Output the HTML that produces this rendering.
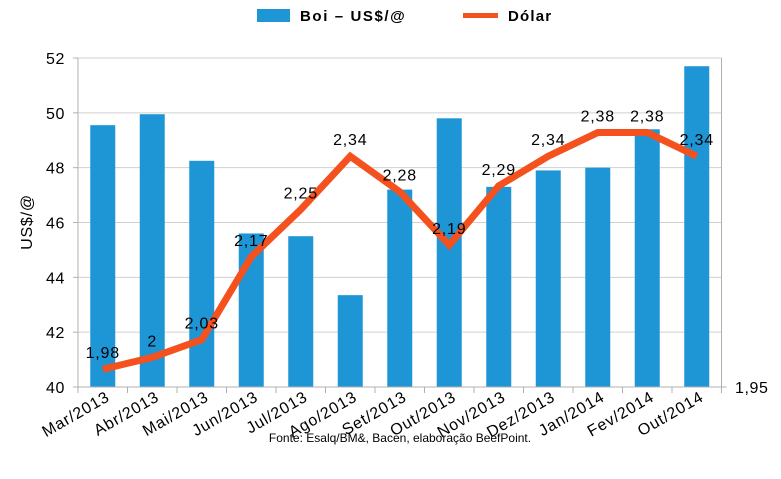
<!DOCTYPE html>
<html><head><meta charset="utf-8"><style>
body{margin:0;background:#fff;}
svg{display:block;font-family:"Liberation Sans",sans-serif;}
</style></head><body>
<svg id="chart" width="781" height="479">
<g id="grid"></g><g id="bars"></g><g id="axes"></g><g id="line"></g><g id="labels"></g>
<g>
<rect x="257" y="9" width="33" height="13" fill="#1e96d6"/>
<text x="300" y="21" font-size="15" font-weight="bold" letter-spacing="1.6">Boi – US$/@</text>
<line x1="463" y1="15.5" x2="498" y2="15.5" stroke="#f4511e" stroke-width="5"/>
<text x="508" y="21" font-size="15" font-weight="bold" letter-spacing="1.2">Dólar</text>
</g>
<text x="32" y="222" font-size="16" letter-spacing="0.8" text-anchor="middle" transform="rotate(-90 32 222)">US$/@</text>
<text x="735" y="393" font-size="16" letter-spacing="0.6">1,95</text>
<text x="400" y="442" font-size="12" text-anchor="middle">Fonte: Esalq/BM&amp;, Bacen, elaboração BeefPoint.</text>
</svg>
<script>
const categories=["Mar/2013","Abr/2013","Mai/2013","Jun/2013","Jul/2013","Ago/2013","Set/2013","Out/2013","Nov/2013","Dez/2013","Jan/2014","Fev/2014","Out/2014"];
const boi=[49.55,49.95,48.25,45.6,45.5,43.35,47.2,49.8,47.3,47.9,48.0,49.4,51.7];
const dolar=[1.98,2,2.03,2.17,2.25,2.34,2.28,2.19,2.29,2.34,2.38,2.38,2.34];
const dolarLabels=["1,98","2","2,03","2,17","2,25","2,34","2,28","2,19","2,29","2,34","2,38","2,38","2,34"];
const yTicks=[40,42,44,46,48,50,52];
const NS="http://www.w3.org/2000/svg";
const L=78,R=721.5,T=58,B=387,step=(R-L)/categories.length;
const y=v=>B-(v-40)/12*(B-T);
const y2=v=>B-(v-1.95)/(2.506-1.95)*(B-T);
const x=i=>L+step*(i+0.5);
function mk(p,tag,a){const e=document.createElementNS(NS,tag);for(const k in a)e.setAttribute(k,a[k]);document.getElementById(p).appendChild(e);return e;}
yTicks.forEach(t=>{
 const g=mk('grid','line',{x1:L,x2:R,y1:y(t),y2:y(t),stroke:'#d0d0d0','stroke-width':1});
 
 
 const tk=mk('axes','line',{x1:L-5,x2:L,y1:y(t),y2:y(t),stroke:'#b0b0b0'});
 
 
 const tx=mk('labels','text',{x:L-13,y:y(t)+6,'font-size':16,'letter-spacing':0.6,'text-anchor':'end'});
 tx.textContent=t;
 
 
});
boi.forEach((v,i)=>{
 const r=mk('bars','rect',{x:x(i)-12.5,y:y(v),width:25,height:B-y(v),fill:'#1e96d6'});
 
 
});
let a=mk('axes','line',{x1:L,x2:L,y1:T,y2:B,stroke:'#b0b0b0'});


a=mk('axes','line',{x1:R,x2:R,y1:T,y2:B,stroke:'#b0b0b0'});


a=mk('axes','line',{x1:L,x2:R+5,y1:B,y2:B,stroke:'#b0b0b0'});


for(let i=0;i<=categories.length;i++){
 const t=mk('axes','line',{x1:L+step*i,x2:L+step*i,y1:B,y2:B+6,stroke:'#b0b0b0'});
 
 
}
categories.forEach((c,i)=>{
 const cx=x(i)+8,cy=B+13;
 const t=mk('labels','text',{x:cx,y:cy,'font-size':16,'letter-spacing':0.9,'text-anchor':'end',transform:`rotate(-30 ${cx} ${cy})`});
 t.textContent=c;
 
 
});
const pl=mk('line','polyline',{points:dolar.map((v,i)=>x(i)+','+y2(v)).join(' '),fill:'none',stroke:'#f4511e','stroke-width':7,'stroke-linejoin':'miter'});


dolar.forEach((v,i)=>{
 const t=mk('labels','text',{x:x(i),y:y2(v)-11,'font-size':16,'letter-spacing':0.8,'text-anchor':'middle'});
 t.textContent=dolarLabels[i];
 
 
});
</script>
</body></html>
